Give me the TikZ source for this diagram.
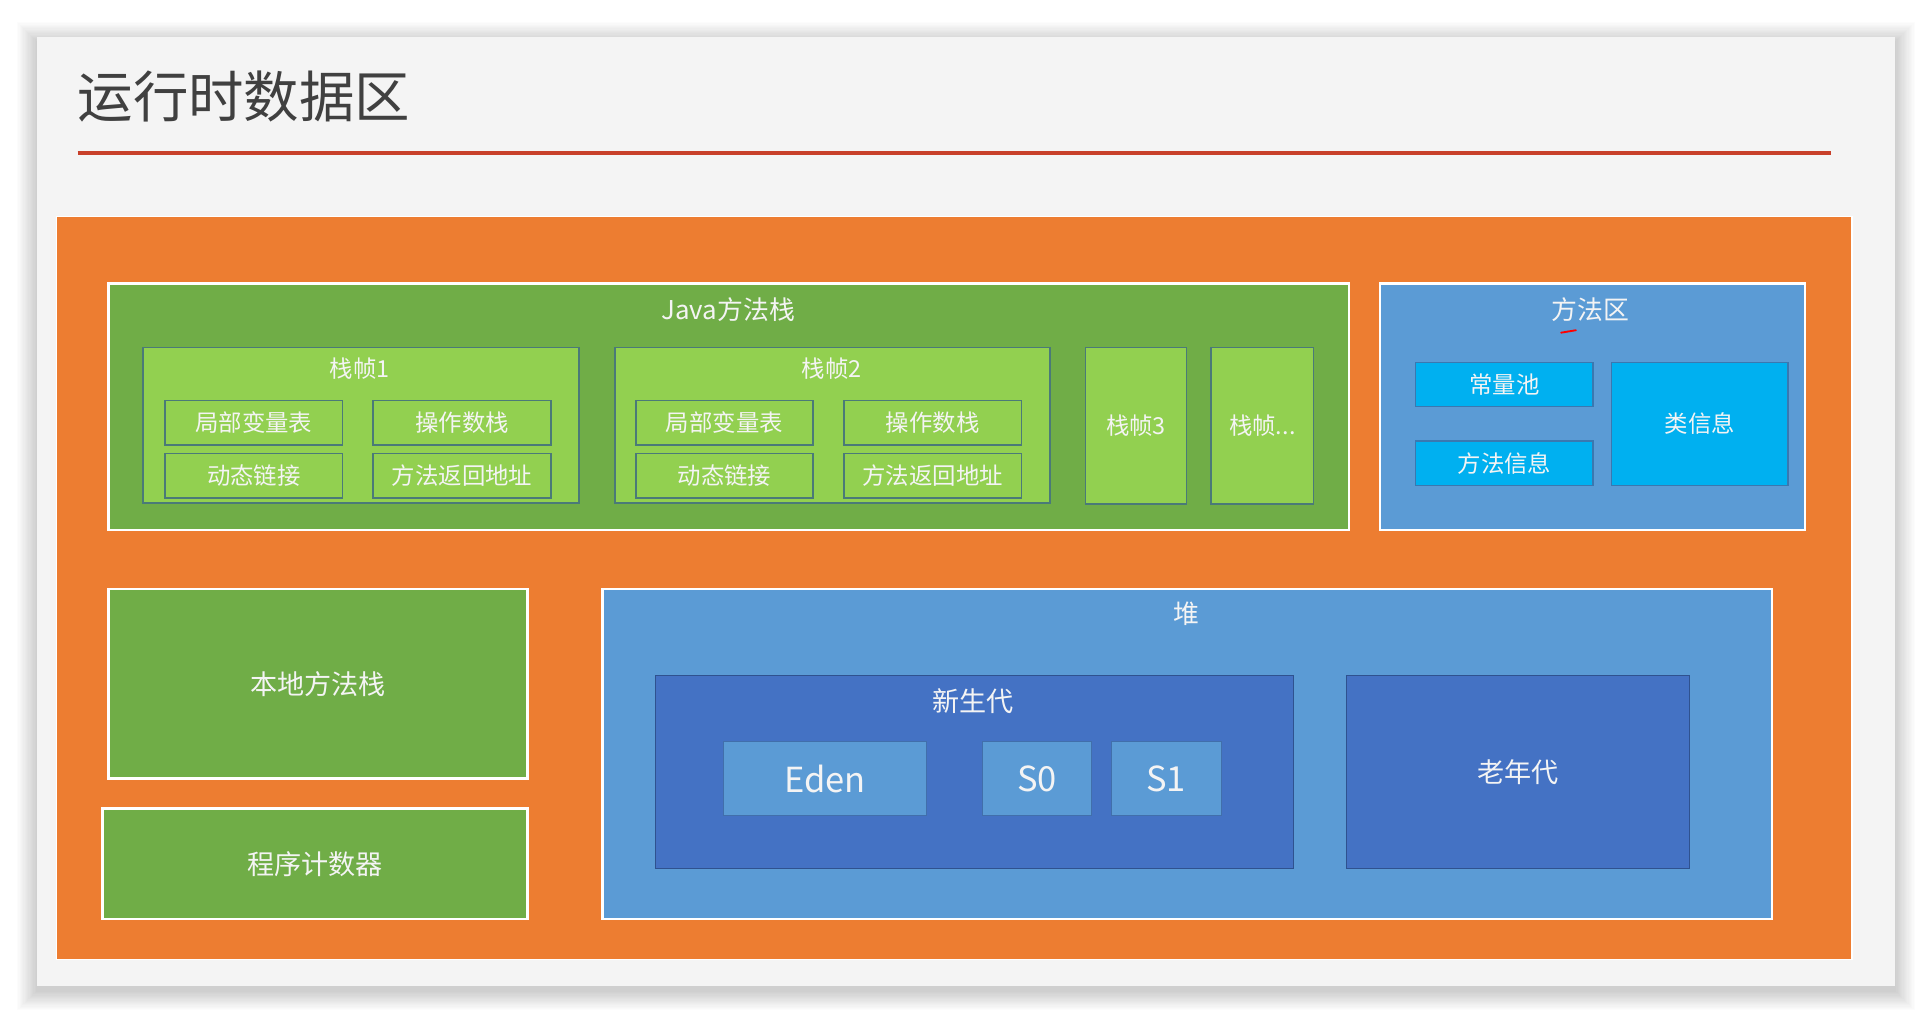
\documentclass[tikz,border=0pt]{standalone}
\usepackage{fontspec}
\setmainfont{Noto Sans CJK SC}
\definecolor{slidebg}{HTML}{F4F4F4}
\definecolor{titlegray}{HTML}{404040}
\definecolor{redline}{HTML}{C8402A}
\definecolor{orangebg}{HTML}{ED7D31}
\definecolor{greenbg}{HTML}{70AD47}
\definecolor{lightgreen}{HTML}{92D050}
\definecolor{framebd}{HTML}{4A7A78}
\definecolor{cyanbd}{HTML}{3A78B0}
\definecolor{bluebg}{HTML}{5B9BD5}
\definecolor{cyanbg}{HTML}{00B0F0}
\definecolor{darkblue}{HTML}{4472C4}
\definecolor{darkbd}{HTML}{2F528F}
\definecolor{txt}{HTML}{F4F4F4}
\newcommand{\bx}[7]{\node[#6, minimum width={#4-#2}, minimum height={#5-#3}] (#1) at ({(#2+#4)/2},{(#3+#5)/2}) {#7};}
\begin{document}
\begin{tikzpicture}[x=1pt,y=-1pt,
  every node/.style={inner sep=0pt, outer sep=0pt, text=txt},
  region/.style={draw=white, line width=2pt},
  greenregion/.style={region, fill=greenbg},
  blueregion/.style={region, fill=bluebg},
  framebox/.style={draw=framebd, line width=1.5pt, fill=lightgreen},
  cellbox/.style={draw=framebd, line width=1.5pt, fill=lightgreen, font=\fontsize{19}{22}\selectfont},
  cyanbox/.style={draw=cyanbd, line width=1.2pt, fill=cyanbg, font=\fontsize{19}{22}\selectfont},
  genbox/.style={draw=darkbd, line width=1pt, fill=darkblue},
  spacebox/.style={draw=darkbd!60!bluebg, line width=0.8pt, fill=bluebg, font=\fontsize{28}{32}\selectfont},
  ttl/.style={font=\fontsize{21}{25}\selectfont},
  big/.style={font=\fontsize{22}{26}\selectfont}]
\useasboundingbox (0,0) rectangle (1568,831);
\fill[white] (0,0) rectangle (1568,831);
\foreach \i in {1,...,16} {
  \fill[black, opacity=0.011] ({30-\i},{30-\i+4}) rectangle ({1538+\i},{800+\i+4});
}
\fill[slidebg] (30,30) rectangle (1538,800);
% title
\node[anchor=west, text=titlegray, font=\fontsize{45}{50}\selectfont] (title) at (63,78) {运行时数据区};
\coordinate (rl1) at (63,124);
\coordinate (rl2) at (1486,124);
\draw[redline, line width=3pt] (rl1) -- (rl2);
% orange area
\bx{rt}{46}{176}{1503}{779}{fill=orangebg, draw=white, line width=1pt}{}
% Java stack
\bx{jstack}{88}{230}{1095}{430}{greenregion}{}
\node[ttl] (jstackt) at (591,251) {Java方法栈};
\bx{f1}{116}{282}{470}{408}{framebox}{}
\node[font=\fontsize{19}{22}\selectfont] (f1t) at (292,299) {栈帧1};
\bx{f1a}{134}{325}{278}{361}{cellbox}{局部变量表}
\bx{f1b}{303}{325}{447}{361}{cellbox}{操作数栈}
\bx{f1c}{134}{368}{278}{404}{cellbox}{动态链接}
\bx{f1d}{303}{368}{447}{404}{cellbox}{方法返回地址}
\bx{f2}{499}{282}{852}{408}{framebox}{}
\node[font=\fontsize{19}{22}\selectfont] (f2t) at (675,299) {栈帧2};
\bx{f2a}{516}{325}{660}{361}{cellbox}{局部变量表}
\bx{f2b}{685}{325}{829}{361}{cellbox}{操作数栈}
\bx{f2c}{516}{368}{660}{404}{cellbox}{动态链接}
\bx{f2d}{685}{368}{829}{404}{cellbox}{方法返回地址}
\bx{f3}{881}{282}{963}{409}{cellbox}{栈帧3}
\bx{f4}{983}{282}{1066}{409}{cellbox}{栈帧...}
% method area
\bx{ma}{1120}{230}{1465}{430}{blueregion}{}
\node[ttl] (mat) at (1291,251) {方法区};
\draw[red, line width=1.5pt, line cap=round] (1267,270) -- (1279,268);
\bx{cp}{1149}{294}{1293}{330}{cyanbox}{常量池}
\bx{mi}{1149}{358}{1293}{394}{cyanbox}{方法信息}
\bx{ci}{1308}{294}{1451}{394}{cyanbox}{类信息}
% native stack, pc
\bx{ns}{88}{478}{428}{632}{greenregion, big}{本地方法栈}
\bx{pc}{83}{656}{428}{746}{greenregion, big}{程序计数器}
% heap
\bx{heap}{489}{478}{1438}{746}{blueregion}{}
\node[ttl] (heapt) at (963,498) {堆};
\bx{young}{532}{548}{1050}{705}{genbox}{}
\node[big] (youngt) at (790,569) {新生代};
\bx{eden}{587}{602}{752}{662}{spacebox}{Eden}
\bx{s0}{797}{602}{886}{662}{spacebox}{S0}
\bx{s1}{902}{602}{991}{662}{spacebox}{S1}
\bx{old}{1093}{548}{1371}{705}{genbox, big}{老年代}
\end{tikzpicture}
\end{document}
